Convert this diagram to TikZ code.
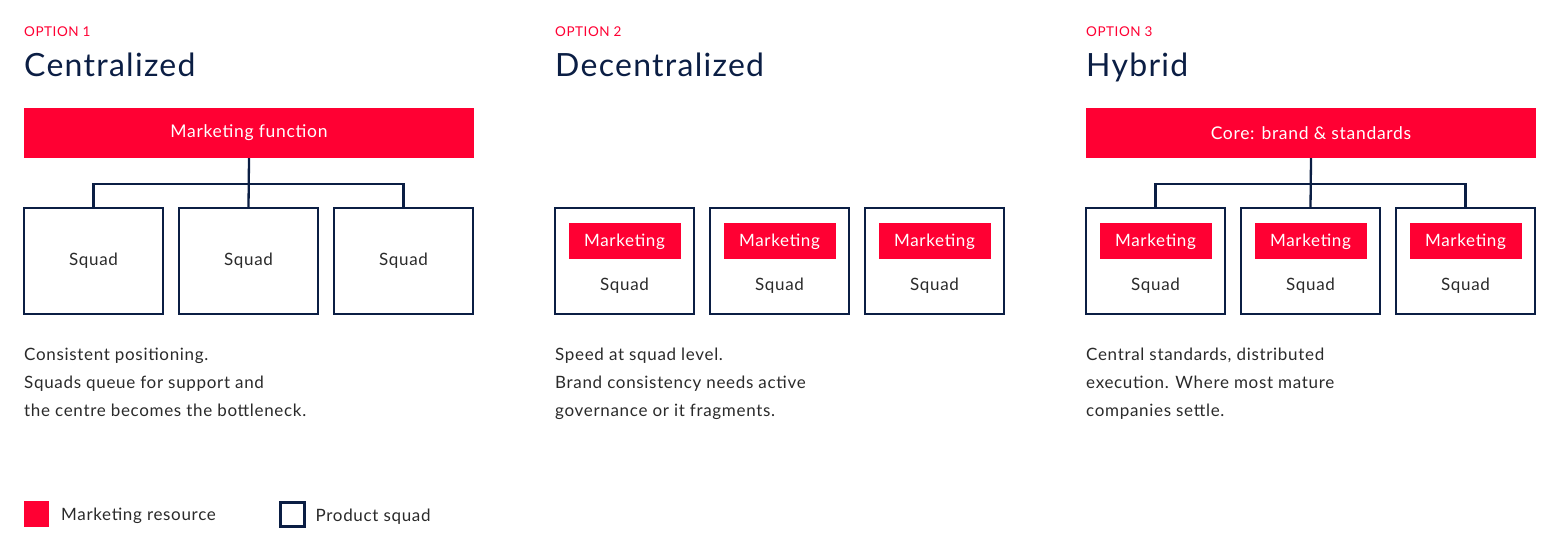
\documentclass[tikz,border=0pt]{standalone}
\usepackage{fontspec}
\setmainfont{Lato}[LetterSpace=4]
\usetikzlibrary{positioning}

\definecolor{mkred}{HTML}{FF0033}
\definecolor{navy}{HTML}{0B1E44}
\definecolor{ink}{HTML}{2A2A2A}

\begin{document}
\begin{tikzpicture}[x=1pt,y=-1pt]
    \tikzset { kicker/.style = { anchor=base west,inner sep=0pt,text=mkred,font=\fontsize{13.5}{16}\selectfont } }
    \tikzset { title/.style = { anchor=base west,inner sep=0pt,text=navy,font=\fontsize{32}{38}\selectfont } }
    \tikzset { body/.style = { anchor=base west,inner sep=0pt,text=ink,font=\fontsize{17}{20}\selectfont } }
    \tikzset { redbar/.style = { shape=rectangle,fill=mkred,text=white,minimum width=450pt,minimum height=50pt,font=\fontsize{17.5}{20}\selectfont } }
    \tikzset { redbox/.style = { shape=rectangle,fill=mkred,text=white,minimum width=112pt,minimum height=36pt,inner sep=0pt,outer sep=0pt,text depth=0.1em,font=\fontsize{17}{20}\selectfont } }
    \tikzset { squad/.style = { shape=rectangle,draw=navy,line width=2.3pt,minimum width=139pt,minimum height=106pt,inner sep=0pt,outer sep=0pt,text=ink,font=\fontsize{17}{20}\selectfont } }
    \tikzset { sqlabel/.style = { text=ink,inner sep=0pt,font=\fontsize{17}{20}\selectfont } }
    \tikzset { link/.style = { draw=navy,line width=2.3pt } }

    \useasboundingbox (0,0) rectangle (1560,551);

    % option 1
    \node[kicker] (k1) at (24,37) {OPTION 1};
    \node[title] (t1) at (24,76) {Centralized};
    \node[redbar] (mf) at (249,133) {Marketing function};

    \node[squad] (s11) at (93.5,261) {Squad};
    \node[squad, right=16pt of s11] (s12) {Squad};
    \node[squad, right=16pt of s12] (s13) {Squad};

    \draw[link] (mf.south) -- ++(0,26) -| (s11.north);
    \draw[link] (mf.south) -- ++(0,26) -| (s13.north);
    \draw[link] (mf.south) -- (s12.north);

    \node[body] (d11) at (24,360) {Consistent positioning.};
    \node[body] (d12) at (24,388) {Squads queue for support and};
    \node[body] (d13) at (24,416) {the centre becomes the bottleneck.};

    % option 2
    \node[kicker] (k2) at (555,37) {OPTION 2};
    \node[title] (t2) at (555,76) {Decentralized};

    \node[squad] (s21) at (624.5,261) {};
    \node[squad, right=16pt of s21] (s22) {};
    \node[squad, right=16pt of s22] (s23) {};

    \node[redbox, below=15pt of s21.north] (m21) {Marketing};
    \node[redbox, below=15pt of s22.north] (m22) {Marketing};
    \node[redbox, below=15pt of s23.north] (m23) {Marketing};

    \node[sqlabel] (q21) at (624.5,286) {Squad};
    \node[sqlabel] (q22) at (779.5,286) {Squad};
    \node[sqlabel] (q23) at (934.5,286) {Squad};

    \node[body] (d21) at (555,360) {Speed at squad level.};
    \node[body] (d22) at (555,388) {Brand consistency needs active};
    \node[body] (d23) at (555,416) {governance or it fragments.};

    % option 3
    \node[kicker] (k3) at (1086,37) {OPTION 3};
    \node[title] (t3) at (1086,76) {Hybrid};
    \node[redbar] (core) at (1311,133) {Core: brand \& standards};

    \node[squad] (s31) at (1155.5,261) {};
    \node[squad, right=16pt of s31] (s32) {};
    \node[squad, right=16pt of s32] (s33) {};

    \node[redbox, below=15pt of s31.north] (m31) {Marketing};
    \node[redbox, below=15pt of s32.north] (m32) {Marketing};
    \node[redbox, below=15pt of s33.north] (m33) {Marketing};

    \node[sqlabel] (q31) at (1155.5,286) {Squad};
    \node[sqlabel] (q32) at (1310.5,286) {Squad};
    \node[sqlabel] (q33) at (1465.5,286) {Squad};

    \draw[link] (core.south) -- ++(0,26) -| (s31.north);
    \draw[link] (core.south) -- ++(0,26) -| (s33.north);
    \draw[link] (core.south) -- (s32.north);

    \node[body] (d31) at (1086,360) {Central standards, distributed};
    \node[body] (d32) at (1086,388) {execution. Where most mature};
    \node[body] (d33) at (1086,416) {companies settle.};

    % legend
    \node[redbox, minimum width=25pt, minimum height=26pt] (lgm) at (36.5,514) {};
    \node[body, anchor=west, right=12pt of lgm, yshift=-2pt] (lgmt) {Marketing resource};
    \node[squad, minimum width=24pt, minimum height=24pt] (lgs) at (292.5,514.5) {};
    \node[body, anchor=west, right=11pt of lgs, yshift=-2pt] (lgst) {Product squad};

\end{tikzpicture}
\end{document}
